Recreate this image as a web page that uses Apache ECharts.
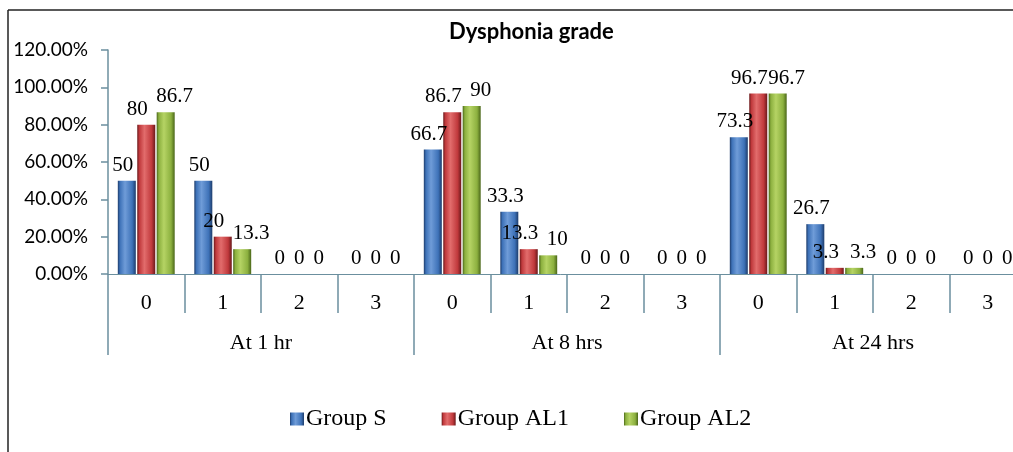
<!DOCTYPE html>
<html>
<head>
<meta charset="UTF-8">
<title>Dysphonia grade</title>
<script src="https://cdn.jsdelivr.net/npm/echarts@6/dist/echarts.min.js"></script>
</head>
<body style="margin:0;background:#fff">
	<div id="main" style="width:1013px;height:452px;"></div>
	<script type="text/javascript">
		// data
		var grades = ['0','1','2','3','0','1','2','3','0','1','2','3'];
		var times = ['At 1 hr','At 8 hrs','At 24 hrs'];
		var yTicks = [0,20,40,60,80,100,120];
		var groupS   = [50,50,0,0, 66.7,33.3,0,0, 73.3,26.7,0,0];
		var groupAL1 = [80,20,0,0, 86.7,13.3,0,0, 96.7,3.3,0,0];
		var groupAL2 = [86.7,13.3,0,0, 90,10,0,0, 96.7,3.3,0,0];

		var axisColor = '#6b8f9e';
		var serif = 'Liberation Serif';

		function grad(edge, mid, dark){
			return {
				type:'linear', x:0, y:0, x2:1, y2:0,
				colorStops:[
					{offset:0, color:dark},
					{offset:0.12, color:edge},
					{offset:0.4, color:mid},
					{offset:0.8, color:edge},
					{offset:1, color:dark}
				]
			};
		}

		// labels nudged sideways a little like the original, zeros stay centred
		function bar(name, values, fill, dx){
			return {
				name:name,
				type:'bar',
				data:values.map(function(v){
					return {value:v, label:{offset:[v === 0 ? 0 : dx, 0]}};
				}),
				barWidth:18,
				barGap:'8%',
				itemStyle:{color:fill},
				label:{
					show:true,
					position:'top',
					distance:5,
					color:'#000',
					fontFamily:serif,
					fontSize:21
				}
			};
		}

		var myChart = echarts.init(document.getElementById('main'));
		var option = {
			animation:false,
			title:{
				text:'Dysphonia grade',
				left:444,
				top:16,
				textStyle:{fontFamily:'Lato', fontWeight:'bold', fontSize:22, color:'#000'}
			},
			graphic:[
				{type:'line', shape:{x1:8, y1:10, x2:1013, y2:10}, style:{stroke:'#222', lineWidth:1.5}},
				{type:'line', shape:{x1:8, y1:10, x2:8, y2:452}, style:{stroke:'#222', lineWidth:1.5}}
			],
			legend:{
				left:285,
				top:402,
				itemWidth:14,
				itemHeight:13,
				itemGap:55,
				icon:'rect',
				textStyle:{fontFamily:serif, fontSize:24, color:'#000', padding:[0,0,0,-3]},
				data:['Group S','Group AL1','Group AL2']
			},
			// the last category runs past the right edge of the picture
			grid:{left:108, top:50, width:918, height:224, outerBoundsMode:'none'},
			xAxis:[
				{
					type:'category',
					data:grades,
					axisLine:{lineStyle:{color:axisColor, width:1}},
					axisTick:{show:true, length:39, lineStyle:{color:axisColor, width:1.5}},
					axisLabel:{margin:18, color:'#000', fontFamily:serif, fontSize:22}
				},
				{
					type:'category',
					data:times,
					position:'bottom',
					axisLine:{show:false},
					axisTick:{show:true, length:81, lineStyle:{color:axisColor, width:1.5}},
					axisLabel:{margin:58, color:'#000', fontFamily:serif, fontSize:22}
				}
			],
			yAxis:{
				type:'value',
				min:yTicks[0],
				max:yTicks[yTicks.length-1],
				interval:20,
				splitLine:{show:false},
				axisLine:{show:true, lineStyle:{color:axisColor, width:1.5}},
				axisTick:{show:true, length:7, lineStyle:{color:axisColor, width:1.5}},
				axisLabel:{
					margin:20,
					color:'#000',
					fontFamily:'Lato',
					fontSize:19,
					formatter:function(v){return v.toFixed(2)+'%';}
				}
			},
			series:[
				bar('Group S', groupS, grad('#3e72b8','#6f9cd8','#1d3c6b'), -4),
				bar('Group AL1', groupAL1, grad('#c0393c','#e26c6c','#6a191b'), -9),
				bar('Group AL2', groupAL2, grad('#8cb03f','#b5d364','#4a6619'), 9)
			]
		};
		myChart.setOption(option);
	</script>
</body>
</html>
